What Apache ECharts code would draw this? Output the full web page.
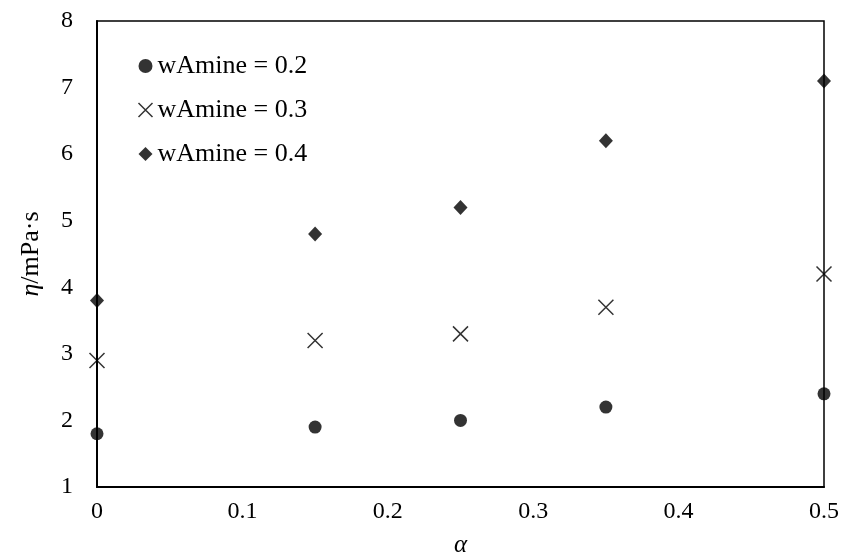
<!DOCTYPE html>
<html>
<head>
<meta charset="utf-8">
<script src="https://cdn.jsdelivr.net/npm/echarts@6/dist/echarts.min.js"></script>
<style>html,body{margin:0;padding:0;background:#fff}#c{width:847px;height:552px}</style>
</head>
<body>
<div id="c"></div>
<script>
var alpha = [0, 0.15, 0.25, 0.35, 0.5];
var w02 = [1.8, 1.9, 2.0, 2.2, 2.4];
var w03 = [2.9, 3.2, 3.3, 3.7, 4.2];
var w04 = [3.8, 4.8, 5.2, 6.2, 7.1];
var seriesNames = ['wAmine = 0.2', 'wAmine = 0.3', 'wAmine = 0.4'];
var xTicks = [0, 0.1, 0.2, 0.3, 0.4, 0.5];
var yTicks = [1, 2, 3, 4, 5, 6, 7, 8];

function pairs(xs, ys) { return xs.map(function (x, i) { return [x, ys[i]]; }); }
var FONT = 'Liberation Serif';
var CROSS = 'path://M0,0L10,10M10,0L0,10';

var chart = echarts.init(document.getElementById('c'));
chart.setOption({
  animation: false,
  backgroundColor: '#fff',
  grid: { left: 97, right: 23, top: 21, bottom: 65, outerBoundsMode: 'none', containLabel: false,
    show: true, borderColor: '#000', borderWidth: 1.5, backgroundColor: 'transparent' },
  legend: {
    orient: 'vertical', left: 131, top: 48, itemGap: 18, itemWidth: 14, itemHeight: 14,
    textStyle: { fontFamily: FONT, fontSize: 26, color: '#000' },
    data: [
      { name: seriesNames[0], icon: 'circle', itemStyle: { color: '#000' } },
      { name: seriesNames[1], icon: CROSS, itemStyle: { color: 'none', borderColor: '#000', borderWidth: 1.5 } },
      { name: seriesNames[2], icon: 'diamond', itemStyle: { color: '#000' } }
    ]
  },
  xAxis: {
    type: 'value', min: xTicks[0], max: xTicks[xTicks.length - 1], interval: 0.1,
    name: 'α', nameLocation: 'middle', nameGap: 46,
    nameTextStyle: { fontFamily: FONT, fontSize: 25, fontStyle: 'italic', color: '#000' },
    axisLine: { show: true, lineStyle: { color: '#000', width: 2 } },
    axisTick: { show: false }, splitLine: { show: false },
    axisLabel: { fontFamily: FONT, fontSize: 24, color: '#000', margin: 13,
      formatter: function (v) { return String(Math.round(v * 10) / 10); } }
  },
  yAxis: {
    type: 'value', min: yTicks[0], max: yTicks[yTicks.length - 1], interval: 1,
    name: '{i|η}/mPa·s', nameLocation: 'middle', nameGap: 53, nameRotate: 90,
    nameTextStyle: { fontFamily: FONT, fontSize: 26, color: '#000',
      rich: { i: { fontFamily: FONT, fontSize: 26, fontStyle: 'italic', color: '#000' } } },
    axisLine: { show: true, lineStyle: { color: '#000', width: 2 } },
    axisTick: { show: false }, splitLine: { show: false },
    axisLabel: { fontFamily: FONT, fontSize: 24, color: '#000', margin: 24 }
  },
  series: [
    { name: seriesNames[0], type: 'scatter', clip: false, symbol: 'circle', symbolSize: 13,
      itemStyle: { color: '#000' }, data: pairs(alpha, w02) },
    { name: seriesNames[1], type: 'scatter', clip: false, symbol: CROSS, symbolSize: 15,
      itemStyle: { color: 'none', borderColor: '#000', borderWidth: 1.5 }, data: pairs(alpha, w03) },
    { name: seriesNames[2], type: 'scatter', clip: false, symbol: 'diamond', symbolSize: [14, 15],
      itemStyle: { color: '#000' }, data: pairs(alpha, w04) }
  ]
});
</script>
</body>
</html>
